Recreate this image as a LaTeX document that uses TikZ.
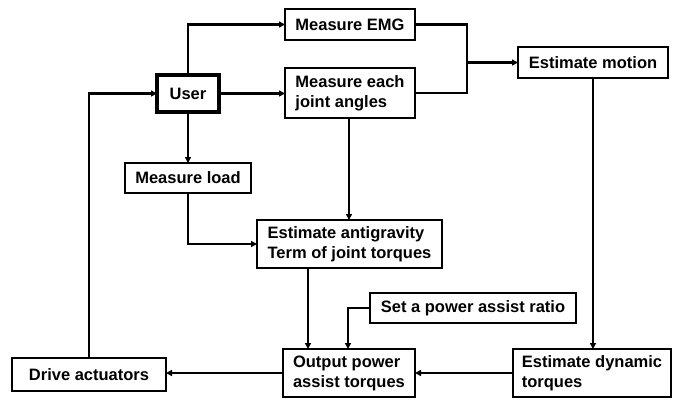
\documentclass[tikz,border=0pt]{standalone}
\usepackage{fontspec}
\setmainfont{Liberation Sans}
\usetikzlibrary{arrows.meta}
\begin{document}
\begin{tikzpicture}[x=1pt,y=-1pt,
  blk/.style={draw, line width=2.8pt, inner sep=0pt, outer sep=0pt, align=left,
    font=\fontsize{16.5}{20}\selectfont\bfseries},
  wire/.style={line width=2.8pt},
  arr/.style={wire, -{Triangle[length=6pt,width=6pt]}}]
\useasboundingbox (0,0) rectangle (680,400);

% process blocks
\node[blk, minimum width=130pt, minimum height=31pt] (emg) at (350,24.5) {Measure EMG};
\node[blk, minimum width=130pt, minimum height=50pt] (ang) at (350,93) {Measure each\\joint angles};
\node[blk, line width=4.5pt, minimum width=62pt, minimum height=37pt] (user) at (188,93.5) {User};
\node[blk, minimum width=150pt, minimum height=31pt] (mot) at (593,62.5) {Estimate motion};
\node[blk, minimum width=126pt, minimum height=30pt] (load) at (188,178) {Measure load};
\node[blk, minimum width=185pt, minimum height=48pt] (anti) at (349.5,244) {Estimate antigravity\\Term of joint torques};
\node[blk, minimum width=206pt, minimum height=30pt] (ratio) at (473,308) {Set a power assist ratio};
\node[blk, minimum width=132pt, minimum height=48pt] (out) at (349,373) {Output power\\assist torques};
\node[blk, minimum width=158pt, minimum height=48pt] (dyn) at (592,373) {Estimate dynamic\\torques};
\node[blk, minimum width=154pt, minimum height=33pt] (drive) at (89,374.5) {Drive actuators};

% junction of the two measurements
\coordinate (jm) at (467,62.5);

% connectors
\draw[arr] (user.north) |- (emg.west);
\draw[arr] (user.east) -- (user.east -| ang.west);
\draw[wire] (emg.east) -| (jm) |- (ang.east);
\draw[arr] (jm) -- (mot.west);
\draw[arr] (mot.south) -- (mot.south |- dyn.north);
\draw[arr] (user.south) -- (load.north);
\draw[arr] (load.south) |- (anti.west);
\draw[arr] ([xshift=-1pt]ang.south) -- ([xshift=-1pt]ang.south |- anti.north);
\draw[arr] ([xshift=51pt]anti.south west) -- ([xshift=25pt]out.north west);
\draw[arr] (ratio.west) -| ([xshift=65pt]out.north west);
\draw[arr] (dyn.west) -- (out.east);
\draw[arr] (out.west) -- (out.west -| drive.east);
\draw[arr] (drive.north) |- (user.west);
\end{tikzpicture}
\end{document}
